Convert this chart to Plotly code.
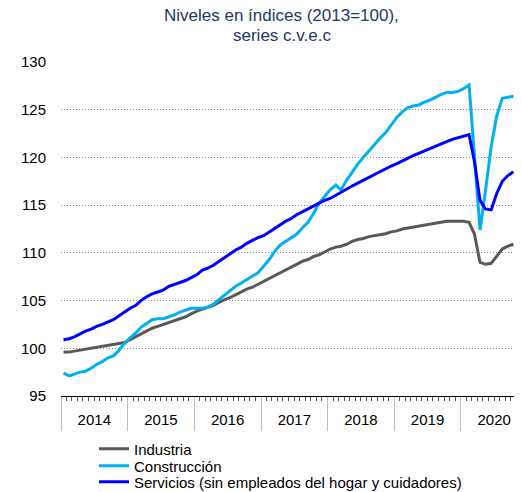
import pandas as pd
import plotly.graph_objects as go

# monthly series, Jan 2014 - Oct 2020 (index 2013=100, seasonally and calendar adjusted)
meses = pd.date_range("2014-01-01", "2020-10-01", freq="MS") + pd.Timedelta(days=14)

industria = [
    99.6, 99.6, 99.7, 99.8, 99.9, 100.0, 100.1, 100.2, 100.3, 100.35, 100.45, 100.6,
    100.9, 101.2, 101.5, 101.8, 102.1, 102.3, 102.5, 102.7, 102.9, 103.1, 103.3, 103.6,
    103.9, 104.1, 104.3, 104.5, 104.8, 105.1, 105.3, 105.6, 105.9, 106.2, 106.4, 106.7,
    107.0, 107.3, 107.6, 107.9, 108.2, 108.5, 108.8, 109.1, 109.3, 109.6, 109.8, 110.1,
    110.4, 110.6, 110.7, 110.9, 111.2, 111.4, 111.5, 111.7, 111.8, 111.9, 112.0, 112.2,
    112.3, 112.5, 112.6, 112.7, 112.8, 112.9, 113.0, 113.1, 113.2, 113.3, 113.3, 113.3,
    113.3, 113.2, 112.0, 109.0, 108.8, 108.9, 109.7, 110.4, 110.7, 110.9,
]
construccion = [
    97.4, 97.1, 97.3, 97.5, 97.6, 97.9, 98.3, 98.6, 99.0, 99.2, 99.8, 100.5,
    101.1, 101.6, 102.2, 102.6, 103.0, 103.1, 103.1, 103.3, 103.5, 103.8, 104.0, 104.2,
    104.2, 104.2, 104.3, 104.6, 105.1, 105.6, 106.1, 106.5, 106.85, 107.2, 107.6, 107.9,
    108.6, 109.3, 110.1, 110.8, 111.2, 111.6, 111.95, 112.6, 113.2, 114.1, 115.2, 115.9,
    116.6, 117.1, 116.6, 117.6, 118.5, 119.3, 120.0, 120.7, 121.3, 122.0, 122.6, 123.4,
    124.2, 124.8, 125.2, 125.4, 125.5, 125.8, 126.0, 126.3, 126.6, 126.8, 126.8, 126.9,
    127.2, 127.6, 120.5, 112.4, 116.5, 121.1, 124.3, 126.2, 126.3, 126.4,
]
servicios = [
    100.9, 101.0, 101.2, 101.5, 101.8, 102.0, 102.3, 102.5, 102.75, 103.0, 103.4, 103.8,
    104.2, 104.5, 105.0, 105.4, 105.7, 105.9, 106.1, 106.5, 106.7, 106.9, 107.1, 107.4,
    107.7, 108.2, 108.4, 108.7, 109.1, 109.5, 109.9, 110.3, 110.6, 111.0, 111.3, 111.6,
    111.8, 112.2, 112.6, 113.0, 113.3, 113.6, 114.0, 114.3, 114.6, 114.9, 115.2, 115.5,
    115.7, 116.05, 116.4, 116.7, 117.0, 117.3, 117.6, 117.9, 118.25, 118.5, 118.85, 119.1,
    119.35, 119.6, 119.9, 120.2, 120.45, 120.7, 120.95, 121.2, 121.45, 121.65, 121.9, 122.05,
    122.25, 122.4, 119.6, 115.5, 114.6, 114.5, 116.2, 117.5, 118.1, 118.5,
]

series = [
    ("Industria", industria, "#595959"),
    ("Construcción", construccion, "#00b0f0"),
    ("Servicios (sin empleados del hogar y cuidadores)", servicios, "#0000ff"),
]
subtitulo = ["Niveles en índices (2013=100),", "series c.v.e.c"]

fig = go.Figure()
# one legend per entry so the rows sit as tight as in the original
leyendas = ["legend", "legend2", "legend3"]
for (nombre, valores, color), ley in zip(series, leyendas):
    fig.add_trace(go.Scatter(x=meses, y=valores, name=nombre, mode="lines",
                             line=dict(color=color, width=3), legend=ley))

ley_cfg = dict(x=0.0716, xanchor="left", yanchor="middle", bgcolor="rgba(0,0,0,0)",
               itemwidth=30, font=dict(size=15), borderwidth=0)
# page body adds 8px around the figure; figure is a bit taller than the window
# so the last legend row does not push the bottom margin
fig.update_layout(
    width=514, height=492,
    margin=dict(l=53, r=0, t=54, b=104),
    paper_bgcolor="white", plot_bgcolor="white", showlegend=True,
    font=dict(family="Liberation Sans, Arial", size=15, color="black"),
    legend=dict(y=-0.1587, **ley_cfg),
    legend2=dict(y=-0.2096, **ley_cfg),
    legend3=dict(y=-0.2575, **ley_cfg),
)
for linea, desp in zip(subtitulo, [47, 27]):
    fig.add_annotation(text=linea, xref="paper", yref="paper", x=0.479, y=1,
                       xanchor="center", yanchor="middle", yshift=desp,
                       showarrow=False, borderpad=0,
                       font=dict(size=17, color="#1f3864"))

fig.update_xaxes(
    type="date", range=["2014-01-01", "2020-12-01"], automargin=False,
    showline=True, linecolor="black", linewidth=1, showgrid=False,
    ticks="outside", ticklen=34, tickwidth=1, tickcolor="#bfbfbf",
    dtick="M12", tick0="2014-01-01", tickformat="%Y", ticklabelmode="period",
    ticklabelstandoff=-24,
    minor=dict(ticks="outside", ticklen=4, tickwidth=1, tickcolor="#595959",
               dtick="M1", showgrid=False),
)
fig.update_yaxes(
    range=[95, 130], dtick=5, showgrid=True, gridcolor="#8c8c8c", gridwidth=1,
    griddash="1px,2px", zeroline=False, showline=False, ticks="",
    ticklabelstandoff=14, automargin=False,
)

fig.write_html("out.html")
